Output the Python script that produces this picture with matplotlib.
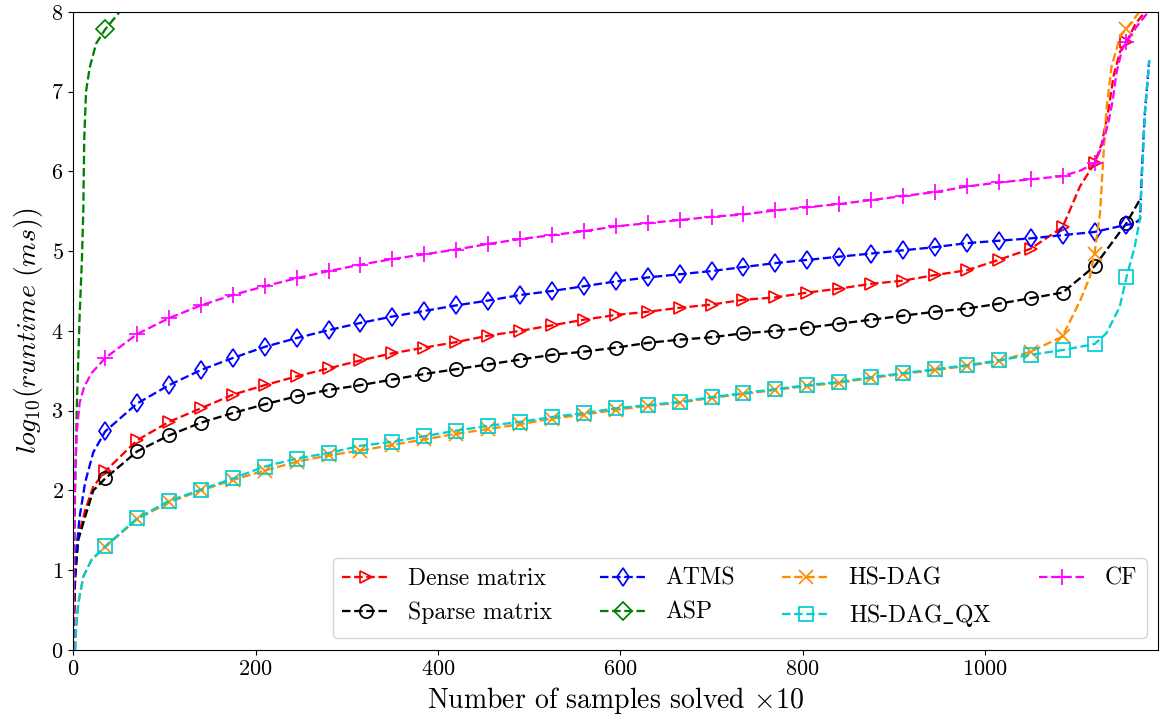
import numpy as np
import matplotlib
matplotlib.use("Agg")
import matplotlib.pyplot as plt

plt.rcParams.update({
    "font.family": "serif",
    "font.serif": ["cmr10"],
    "mathtext.fontset": "cm",
    "axes.formatter.use_mathtext": True,
    "axes.unicode_minus": False,
})

# Sample counts (x10) where the markers sit
marker_x = np.arange(35, 1156, 35)

# ---- Dense matrix ----
dense_marks = [2.24, 2.63, 2.86, 3.03, 3.20, 3.32, 3.43, 3.53, 3.63, 3.72, 3.79,
               3.86, 3.94, 4.00, 4.07, 4.14, 4.20, 4.24, 4.29, 4.33, 4.39, 4.42,
               4.48, 4.53, 4.59, 4.63, 4.70, 4.76, 4.89, 5.03, 5.30, 6.10, 7.62]
dense_extra_x = [0, 2, 5, 13, 22, 1104, 1128, 1135, 1141, 1148, 1165, 1177]
dense_extra_y = [0.0, 0.9, 1.4, 1.75, 2.05, 5.81, 6.35, 6.75, 7.2, 7.5, 7.85, 8.02]

# ---- Sparse matrix ----
sparse_marks = [2.15, 2.49, 2.69, 2.85, 2.97, 3.08, 3.18, 3.26, 3.32, 3.39, 3.46,
                3.52, 3.58, 3.64, 3.70, 3.74, 3.79, 3.85, 3.89, 3.92, 3.97, 4.00,
                4.04, 4.09, 4.14, 4.19, 4.24, 4.28, 4.34, 4.41, 4.48, 4.81, 5.35]
sparse_extra_x = [0, 2, 5.5, 13, 22, 1170]
sparse_extra_y = [0.0, 0.9, 1.38, 1.67, 2.0, 5.65]

# ---- ATMS ----
atms_marks = [2.74, 3.09, 3.32, 3.51, 3.66, 3.80, 3.91, 4.01, 4.10, 4.18, 4.25,
              4.32, 4.38, 4.45, 4.50, 4.56, 4.62, 4.67, 4.71, 4.75, 4.80, 4.85,
              4.89, 4.93, 4.97, 5.01, 5.05, 5.10, 5.13, 5.16, 5.20, 5.24, 5.33]
atms_extra_x = [0, 1, 3, 7, 13, 22, 1163, 1170, 1171.5, 1175, 1180]
atms_extra_y = [0.0, 0.7, 1.2, 1.67, 2.1, 2.48, 5.34, 5.4, 5.9, 6.7, 7.39]

# ---- ASP ----
asp_marks = [7.78]
asp_extra_x = [0, 1, 2, 4, 7, 9.5, 11, 12, 14, 18, 25, 51, 70]
asp_extra_y = [0.0, 1.0, 2.0, 3.1, 4.2, 4.9, 5.5, 6.4, 7.0, 7.3, 7.6, 8.0, 8.25]

# ---- HS-DAG ----
hsdag_marks = [1.29, 1.64, 1.85, 2.00, 2.13, 2.25, 2.36, 2.44, 2.50, 2.57, 2.64,
               2.71, 2.77, 2.83, 2.90, 2.95, 3.01, 3.06, 3.10, 3.16, 3.21, 3.26,
               3.31, 3.35, 3.41, 3.46, 3.51, 3.56, 3.62, 3.74, 3.93, 4.97, 7.79]
hsdag_extra_x = [2, 3, 5.5, 11, 20, 1104.6, 1115, 1126, 1129.5, 1133, 1138.6,
                 1148, 1168, 1175]
hsdag_extra_y = [0.0, 0.25, 0.585, 0.92, 1.13, 4.39, 4.68, 5.47, 6.14, 6.77, 7.31,
                 7.69, 7.98, 8.1]

# ---- HS-DAG_QX ----
qx_marks = [1.30, 1.65, 1.87, 2.01, 2.15, 2.30, 2.40, 2.47, 2.56, 2.61, 2.68,
            2.75, 2.81, 2.86, 2.92, 2.97, 3.03, 3.07, 3.11, 3.17, 3.22, 3.27,
            3.32, 3.36, 3.42, 3.47, 3.52, 3.57, 3.63, 3.70, 3.76, 3.835, 4.67]
qx_extra_x = [2, 3, 5.5, 11, 20, 1133, 1147.6, 1164, 1169.6, 1171.5, 1175, 1180]
qx_extra_y = [0.0, 0.25, 0.585, 0.92, 1.13, 3.97, 4.30, 5.05, 5.39, 5.8, 6.7, 7.39]

# ---- CF ----
cf_marks = [3.66, 3.96, 4.16, 4.32, 4.45, 4.56, 4.66, 4.75, 4.83, 4.90, 4.96,
            5.02, 5.09, 5.15, 5.20, 5.25, 5.31, 5.35, 5.39, 5.43, 5.46, 5.51,
            5.55, 5.59, 5.64, 5.69, 5.74, 5.81, 5.86, 5.90, 5.94, 6.10, 7.62]
cf_extra_x = [0, 1, 2, 4, 7, 12, 20, 1104.6, 1128, 1135, 1140, 1144, 1150, 1166, 1179]
cf_extra_y = [0.0, 1.5, 2.2, 2.75, 3.1, 3.3, 3.47, 6.01, 6.31, 6.60, 6.89, 7.23,
              7.52, 7.81, 8.0]

series = [
    ("Dense matrix", dense_marks, dense_extra_x, dense_extra_y, "red", ">", 9),
    ("Sparse matrix", sparse_marks, sparse_extra_x, sparse_extra_y, "black", "o", 9.5),
    ("ATMS", atms_marks, atms_extra_x, atms_extra_y, "blue", "d", 9.5),
    ("ASP", asp_marks, asp_extra_x, asp_extra_y, "green", "D", 9.5),
    ("HS-DAG", hsdag_marks, hsdag_extra_x, hsdag_extra_y, "darkorange", "x", 10),
    ("HS-DAG$\\_$QX", qx_marks, qx_extra_x, qx_extra_y, "darkturquoise", "s", 9.5),
    ("CF", cf_marks, cf_extra_x, cf_extra_y, "magenta", "+", 11),
]

fig = plt.figure(figsize=(11.63, 7.22), dpi=100)
ax = fig.add_axes([0.063, 0.0997, 0.933, 0.884])

for label, marks, ex, ey, color, marker, ms in series:
    mx = marker_x[:len(marks)]
    x = np.concatenate([mx, ex])
    y = np.concatenate([marks, ey])
    order = np.argsort(x, kind="stable")
    x, y = x[order], y[order]
    every = list(np.nonzero(np.isin(x, mx))[0])
    ax.plot(x, y, linestyle="--", color=color, linewidth=1.65,
            marker=marker, markevery=every, markersize=ms,
            markerfacecolor="none", markeredgecolor=color, markeredgewidth=1.25,
            label=label)

ax.set_xlim(0, 1190)
ax.set_ylim(0, 8)
ax.set_xticks([0, 200, 400, 600, 800, 1000])
ax.set_yticks(range(0, 9))
ax.tick_params(labelsize=16)
ax.set_xlabel(r"Number of samples solved $\times 10$", fontsize=20)
ax.set_ylabel(r"$log_{10}(runtime\ (ms))$", fontsize=20)

ax.legend(loc="lower right", ncol=4, fontsize=17)

fig.savefig("out.png", dpi=100)
